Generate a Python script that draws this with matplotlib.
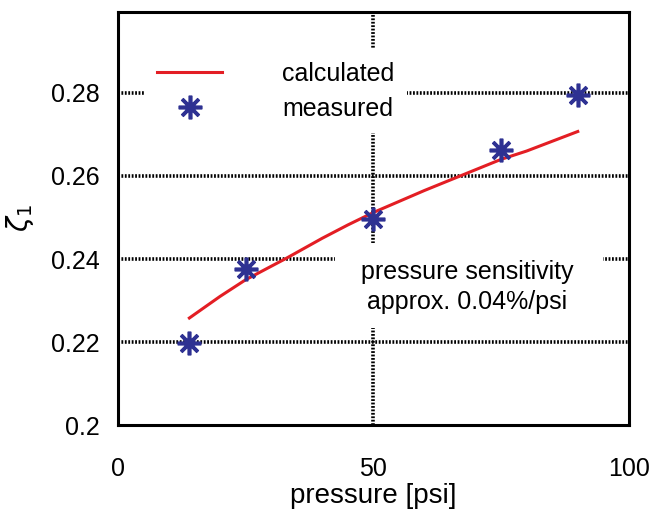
import matplotlib
matplotlib.use('Agg')
import matplotlib.pyplot as plt
from matplotlib.patches import Rectangle

# measured damping ratio
p_meas = [14, 25, 50, 75, 90]
z_meas = [0.2197, 0.2375, 0.2496, 0.2663, 0.2795]

# calculated curve
p_calc = [14, 20, 25, 33, 40, 45, 50, 60, 67, 75, 80, 90]
z_calc = [0.2258, 0.2310, 0.2350, 0.2402, 0.2450, 0.2482, 0.2512,
          0.2565, 0.2600, 0.2640, 0.2660, 0.2707]

x_ticks = [0, 50, 100]
y_ticks = [0.2, 0.22, 0.24, 0.26, 0.28]
y_ticklabels = ['0.2', '0.22', '0.24', '0.26', '0.28']

red = '#e31e24'
blue = '#2e3192'

plt.rcParams['font.family'] = ['Liberation Sans', 'DejaVu Sans']

fig = plt.figure(figsize=(6.51, 5.16), dpi=100)
ax = fig.add_axes([0.181, 0.176, 0.785, 0.801])

# grid (drawn by hand so it sits under the white boxes)
dots = (0, (0.5, 0.45))
for yv in y_ticks[1:]:
    ax.axhline(yv, color='k', lw=2.6, ls=dots, zorder=1)
ax.axvline(50, color='k', lw=2.6, ls=dots, zorder=1)

ax.plot(p_calc, z_calc, color=red, lw=2.2, label='calculated', zorder=3)
ax.plot(p_meas, z_meas, ls='none', marker=(8, 2, 0), ms=17, mew=2.6,
        color=blue, label='measured', zorder=4)

leg = ax.legend(loc='upper left', bbox_to_anchor=(0.053, 0.91),
                borderaxespad=0, borderpad=0.5, fontsize=18,
                handlelength=2.6, handletextpad=2.4, labelspacing=0.45,
                frameon=True, fancybox=False, framealpha=1,
                edgecolor='none', facecolor='white')
leg.set_zorder(5)

# white patch behind the annotation
ax.add_patch(Rectangle((42.5, 0.2234), 52.5, 0.0205, facecolor='white',
                       edgecolor='none', zorder=2))
ax.text(68.3, 0.2333, 'pressure sensitivity\napprox. 0.04%/psi',
        ha='center', va='center', fontsize=18, linespacing=1.3, zorder=6)

ax.set_xlim(0, 100)
ax.set_ylim(0.2, 0.2995)
ax.set_xticks(x_ticks)
ax.set_yticks(y_ticks)
ax.set_yticklabels(y_ticklabels)
ax.tick_params(length=0, labelsize=18)
ax.tick_params(axis='x', pad=23)
ax.tick_params(axis='y', pad=13)
for s in ax.spines.values():
    s.set_linewidth(2.2)

ax.set_xlabel('pressure [psi]', fontsize=20, labelpad=1)
ax.set_ylabel(r'$\zeta_1$', fontsize=20, labelpad=11)

fig.savefig('out.png', dpi=100)
